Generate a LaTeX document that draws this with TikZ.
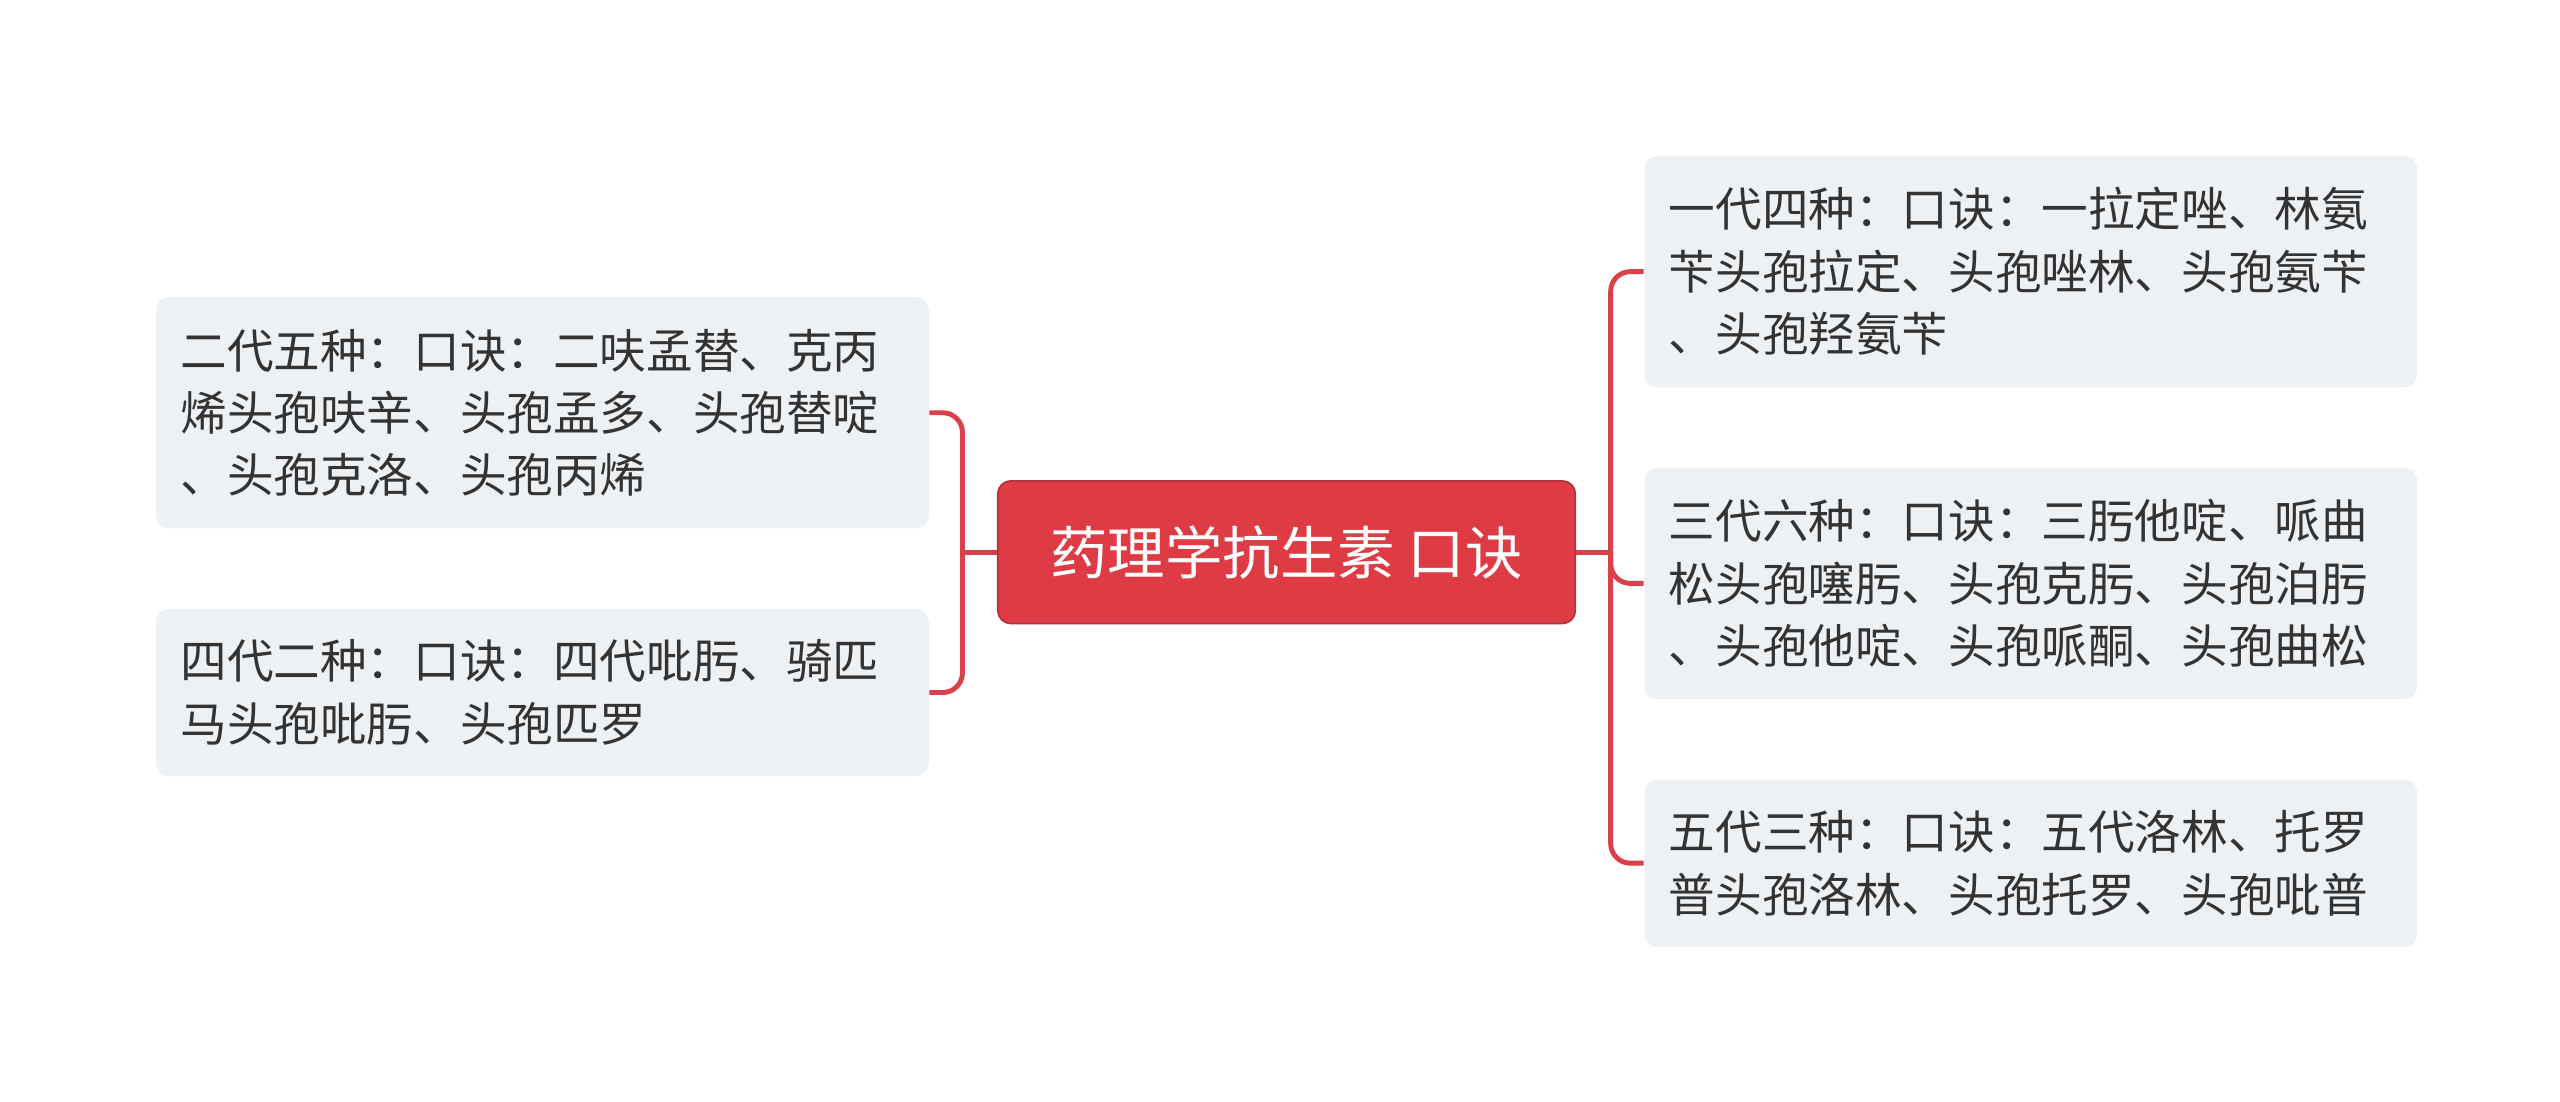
\documentclass[tikz,border=0pt]{standalone}
\usepackage{fontspec}
\setmainfont{Noto Sans CJK SC}
\begin{document}
\begin{tikzpicture}[x=0.5pt,y=-0.5pt,
  leaf/.style={fill=leafbg,rounded corners=4pt,draw=none,align=left,anchor=center,
    text=txt,font=\fontsize{14.2pt}{19pt}\selectfont,inner xsep=7.5pt,inner ysep=0pt},
  conn/.style={draw=redc,line width=1.5pt,rounded corners=6pt}]
\definecolor{leafbg}{HTML}{EEF1F4}
\definecolor{txt}{HTML}{333333}
\definecolor{redc}{HTML}{D94049}
\definecolor{cfill}{HTML}{DE3B44}
\useasboundingbox[fill=white] (0,0) rectangle (1560,671);
\node[fill=cfill,draw=redc!80!black,line width=0.5pt,rounded corners=4pt,text=white,
  font=\fontsize{17.5pt}{20pt}\selectfont,minimum width=176pt,minimum height=43.5pt,inner sep=0pt]
  (c) at (784,336.5) {药理学抗生素 口诀};
\node[leaf,minimum width=235.5pt,minimum height=70.5pt,text width=220.5pt] (l1) at (330.5,251.5)
  {二代五种：口诀：二呋孟替、克丙\\烯头孢呋辛、头孢孟多、头孢替啶\\、头孢克洛、头孢丙烯};
\node[leaf,minimum width=235.5pt,minimum height=51pt,text width=220.5pt] (l2) at (330.5,422)
  {四代二种：口诀：四代吡肟、骑匹\\马头孢吡肟、头孢匹罗};
\node[leaf,minimum width=235.5pt,minimum height=70.5pt,text width=220.5pt] (r1) at (1237.5,165.5)
  {一代四种：口诀：一拉定唑、林氨\\苄头孢拉定、头孢唑林、头孢氨苄\\、头孢羟氨苄};
\node[leaf,minimum width=235.5pt,minimum height=70.5pt,text width=220.5pt] (r2) at (1237.5,355.5)
  {三代六种：口诀：三肟他啶、哌曲\\松头孢噻肟、头孢克肟、头孢泊肟\\、头孢他啶、头孢哌酮、头孢曲松};
\node[leaf,minimum width=235.5pt,minimum height=51pt,text width=220.5pt] (r3) at (1237.5,526)
  {五代三种：口诀：五代洛林、托罗\\普头孢洛林、头孢托罗、头孢吡普};
\draw[conn] (c.west) -- ++(-21,0) coordinate (jl);
\draw[conn] (jl) |- (l1.east);
\draw[conn] (jl) |- (l2.east);
\draw[conn] (c.east) -- ++(21,0) coordinate (jr);
\draw[conn] (jr) |- (r1.west);
\draw[conn] (jr) |- (r2.west);
\draw[conn] (jr) |- (r3.west);
\end{tikzpicture}
\end{document}
